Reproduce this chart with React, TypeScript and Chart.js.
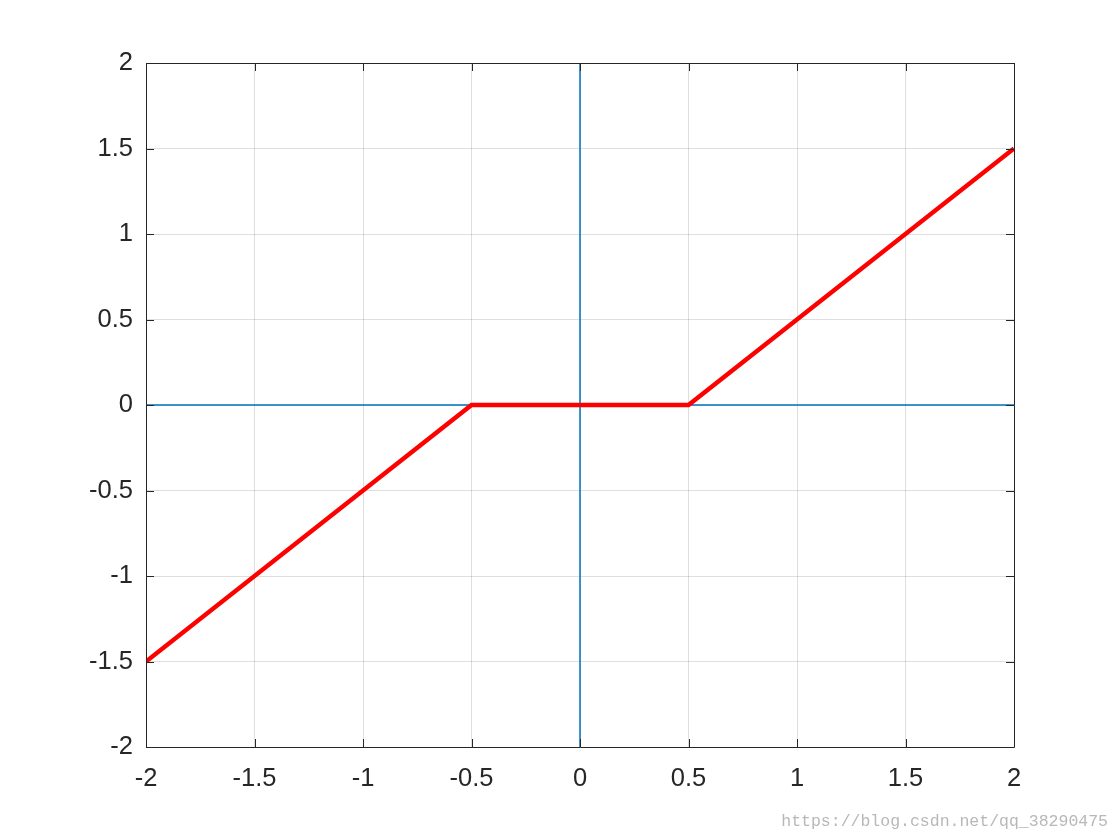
import React, { useEffect, useRef } from "react";
import { Chart, registerables } from "chart.js";

Chart.register(...registerables);

const xValues = [-2, -0.5, 0.5, 2];
const yValues = [-1.5, 0, 0, 1.5];
const tickValues = [-2, -1.5, -1, -0.5, 0, 0.5, 1, 1.5, 2];
const axisRange = [-2, 2];
const watermark = "https://blog.csdn.net/qq_38290475";

const boxPlugin = {
  id: "matlabBox",
  afterDatasetsDraw(chart: any) {
    const { ctx, chartArea, scales } = chart;
    const { left, right, top, bottom } = chartArea;
    ctx.save();
    ctx.strokeStyle = "#262626";
    ctx.lineWidth = 1;
    ctx.beginPath();
    ctx.rect(Math.round(left) + 0.5, Math.round(top) + 0.5, Math.round(right - left), Math.round(bottom - top));
    ctx.stroke();
    const len = 8;
    ctx.beginPath();
    for (const v of tickValues) {
      const x = Math.round(scales.x.getPixelForValue(v)) + 0.5;
      ctx.moveTo(x, bottom);
      ctx.lineTo(x, bottom - len);
      ctx.moveTo(x, top);
      ctx.lineTo(x, top + len);
      const y = Math.round(scales.y.getPixelForValue(v)) + 0.5;
      ctx.moveTo(left, y);
      ctx.lineTo(left + len, y);
      ctx.moveTo(right, y);
      ctx.lineTo(right - len, y);
    }
    ctx.stroke();
    ctx.restore();
  },
};

export default function App() {
  const ref = useRef<HTMLCanvasElement>(null);
  useEffect(() => {
    if (!ref.current) return;
    const redPts = xValues.map((x, i) => ({ x, y: yValues[i] }));
    const chart = new Chart(ref.current, {
      type: "scatter",
      data: {
        datasets: [
          {
            data: [
              { x: axisRange[0], y: 0 },
              { x: axisRange[1], y: 0 },
            ],
            showLine: true,
            borderColor: "#0072BD",
            borderWidth: 1.5,
            pointRadius: 0,
            order: 3,
          },
          {
            data: [
              { x: 0, y: axisRange[0] },
              { x: 0, y: axisRange[1] },
            ],
            showLine: true,
            borderColor: "#0072BD",
            borderWidth: 1.5,
            pointRadius: 0,
            order: 2,
          },
          {
            data: redPts,
            showLine: true,
            borderColor: "#ff0000",
            borderWidth: 4.5,
            pointRadius: 0,
            order: 1,
          },
        ],
      },
      options: {
        responsive: false,
        animation: false,
        events: [],
        layout: { padding: { left: 0, top: 63, right: 106, bottom: 0 } },
        plugins: { legend: { display: false }, tooltip: { enabled: false } },
        scales: {
          x: {
            type: "linear",
            min: axisRange[0],
            max: axisRange[1],
            afterBuildTicks: (s: any) => {
              s.ticks = tickValues.map((v) => ({ value: v }));
            },
            afterFit: (s: any) => {
              s.height = 93;
            },
            grid: { color: "rgba(0,0,0,0.13)", drawTicks: false, lineWidth: 1 },
            border: { display: false },
            ticks: {
              padding: 17,
              color: "#262626",
              font: { family: "'Liberation Sans', Arial, sans-serif", size: 25.5 },
              maxRotation: 0,
              autoSkip: false,
              callback: (v: any) => String(v),
            },
          },
          y: {
            type: "linear",
            min: axisRange[0],
            max: axisRange[1],
            afterBuildTicks: (s: any) => {
              s.ticks = tickValues.map((v) => ({ value: v }));
            },
            afterFit: (s: any) => {
              s.width = 146;
            },
            grid: { color: "rgba(0,0,0,0.13)", drawTicks: false, lineWidth: 1 },
            border: { display: false },
            ticks: {
              padding: 13,
              color: "#262626",
              font: { family: "'Liberation Sans', Arial, sans-serif", size: 25.5 },
              autoSkip: false,
              callback: (v: any) => String(v),
            },
          },
        },
      },
      plugins: [boxPlugin],
    } as any);
    return () => chart.destroy();
  }, []);
  return (
    <div style={{ position: "fixed", left: 0, top: 0, width: 1120, height: 840, background: "#fff" }}>
      <canvas ref={ref} width={1120} height={840} style={{ display: "block" }} />
      <div
        style={{
          position: "absolute",
          right: 12,
          top: 812,
          color: "#b8b8b8",
          fontFamily: "'Liberation Mono', 'DejaVu Sans Mono', monospace",
          fontSize: 16.5,
          whiteSpace: "nowrap",
        }}
      >
        {watermark}
      </div>
    </div>
  );
}
